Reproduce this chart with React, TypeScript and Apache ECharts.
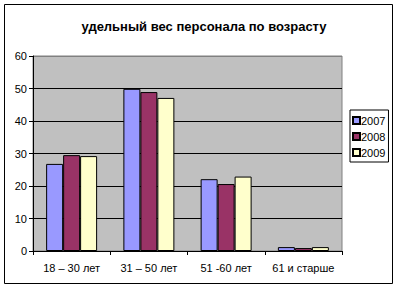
import React, { useEffect, useRef } from "react";
import * as echarts from "echarts";

const categories = ["18 – 30 лет", "31 – 50 лет", "51 -60 лет", "61 и старше"];
const seriesNames = ["2007", "2008", "2009"];
const values2007 = [26.8, 49.9, 22.1, 1.2];
const values2008 = [29.5, 48.9, 20.6, 0.9];
const values2009 = [29.2, 47.1, 22.9, 1.2];
const yTicks = { min: 0, max: 60, interval: 10 };
const colors = ["#9999ff", "#993366", "#ffffcc"];

export default function App() {
  const ref = useRef<HTMLDivElement>(null);
  useEffect(() => {
    if (!ref.current) return;
    const chart = echarts.init(ref.current, undefined, { renderer: "svg" });
    const font = "'Liberation Sans', Arial, sans-serif";
    const data = [values2007, values2008, values2009];
    chart.setOption({
      animation: false,
      backgroundColor: "#ffffff",
      textStyle: { fontFamily: font },
      title: {
        text: "удельный вес персонала по возрасту",
        left: 199,
        top: 15,
        textAlign: "center",
        textStyle: { fontFamily: font, fontSize: 13, fontWeight: "bold", color: "#000" },
      },
      graphic: [
        {
          type: "rect",
          shape: { x: 4.5, y: 4.5, width: 388, height: 279 },
          style: { fill: "none", stroke: "#000", lineWidth: 1 },
          z: 100,
        },
      ],
      legend: {
        orient: "vertical",
        left: 350,
        top: 110,
        data: seriesNames,
        icon: "rect",
        itemWidth: 7,
        itemHeight: 7,
        itemGap: 5,
        padding: [5, 3, 4, 2],
        borderColor: "#000",
        borderWidth: 1,
        backgroundColor: "#fff",
        textStyle: { fontFamily: font, fontSize: 11, color: "#000", padding: [0, 0, 0, -4] },
      },
      grid: {
        left: 33,
        top: 56,
        width: 309,
        height: 195,
        show: true,
        backgroundColor: "#c0c0c0",
        borderColor: "#808080",
        borderWidth: 1,
      },
      xAxis: {
        type: "category",
        data: categories,
        axisLine: { show: true, lineStyle: { color: "#000", width: 1 } },
        axisTick: { show: true, length: 4, lineStyle: { color: "#000" } },
        axisLabel: { fontFamily: font, fontSize: 11, color: "#000", margin: 11, interval: 0 },
        splitLine: { show: false },
      },
      yAxis: {
        type: "value",
        min: yTicks.min,
        max: yTicks.max,
        interval: yTicks.interval,
        axisLine: { show: true, lineStyle: { color: "#000", width: 1 } },
        axisTick: { show: true, length: 4, lineStyle: { color: "#000" } },
        axisLabel: { fontFamily: font, fontSize: 11, color: "#000", margin: 6 },
        splitLine: {
          show: true,
          lineStyle: {
            color: ["#000", "#000", "#000", "#000", "#000", "#000", "#808080"],
            width: 1,
          },
        },
      },
      series: seriesNames.map((name, i) => ({
        name,
        type: "bar",
        data: data[i],
        barGap: "0%",
        barCategoryGap: "34%",
        itemStyle: { color: colors[i], borderColor: "#000", borderWidth: 1 },
      })),
    });
    return () => chart.dispose();
  }, []);
  return <div ref={ref} style={{ width: 398, height: 289, position: "absolute", left: 0, top: 0 }} />;
}
